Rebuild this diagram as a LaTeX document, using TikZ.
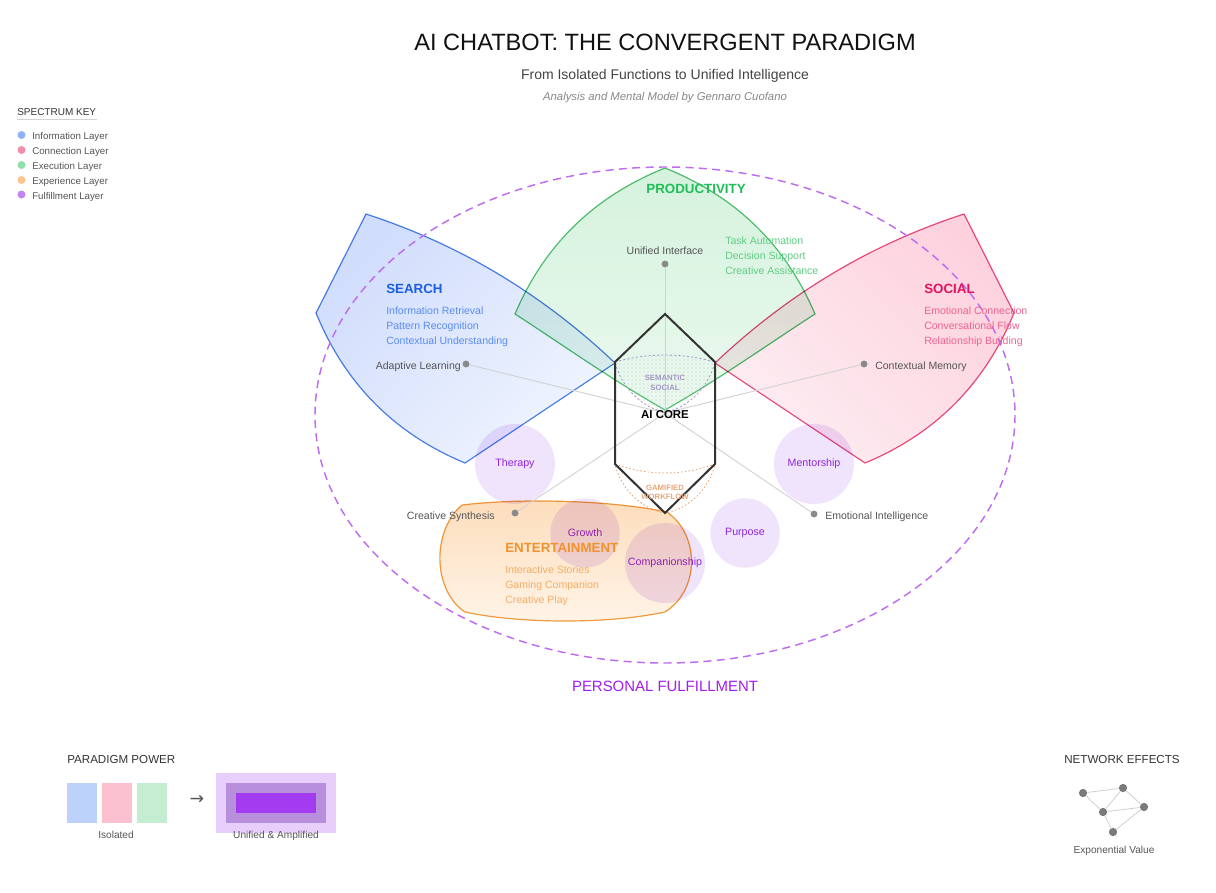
\documentclass[tikz,border=0pt]{standalone}
\usepackage{fontspec}
\setmainfont{Liberation Sans}
\newfontfamily\djv{DejaVu Sans}
\usetikzlibrary{patterns}
\newcommand\setfs[1]{\fontsize{#1}{#1}\selectfont}
\definecolor{blueE}{HTML}{5084E6}
\definecolor{blueA}{HTML}{D0DDFC}
\definecolor{blueB}{HTML}{F0F4FE}
\definecolor{blueT}{HTML}{1B5FE0}
\definecolor{blueI}{HTML}{5B8DEF}
\definecolor{pinkE}{HTML}{E8507F}
\definecolor{pinkA}{HTML}{FDD2DE}
\definecolor{pinkB}{HTML}{FDEDF2}
\definecolor{pinkT}{HTML}{E2125E}
\definecolor{pinkI}{HTML}{EE6390}
\definecolor{greenE}{HTML}{55C274}
\definecolor{greenA}{HTML}{D5F2DD}
\definecolor{greenB}{HTML}{EAF9EF}
\definecolor{greenT}{HTML}{1FBE58}
\definecolor{greenI}{HTML}{5FCD83}
\definecolor{orangeE}{HTML}{F0A042}
\definecolor{orangeA}{HTML}{FDDDBB}
\definecolor{orangeB}{HTML}{FEF4E8}
\definecolor{orangeT}{HTML}{F0922E}
\definecolor{orangeI}{HTML}{F4AD66}
\definecolor{purD}{HTML}{C06CF2}
\definecolor{purT}{HTML}{A21CF0}
\definecolor{purC}{HTML}{9A2BE0}
\definecolor{purF}{HTML}{EFE0FC}
\definecolor{grayL}{HTML}{555555}
\definecolor{lineC}{HTML}{D2D2D2}
\definecolor{dotC}{HTML}{8A8A8A}
\definecolor{semC}{HTML}{A598C8}
\definecolor{gamC}{HTML}{E9A77A}
\definecolor{hexC}{HTML}{333333}
\definecolor{titleC}{HTML}{111111}
\definecolor{subC}{HTML}{444444}
\definecolor{bylC}{HTML}{888888}
\definecolor{keyB}{HTML}{8FB1F5}
\definecolor{keyP}{HTML}{F28CA8}
\definecolor{keyG}{HTML}{8FE0A8}
\definecolor{keyO}{HTML}{FBC58F}
\definecolor{keyU}{HTML}{C584F5}
\definecolor{sqB}{HTML}{BCD2FB}
\definecolor{sqP}{HTML}{FCC1D1}
\definecolor{sqG}{HTML}{C5EDD1}
\definecolor{ampO}{HTML}{E7CEFB}
\definecolor{ampM}{HTML}{B78FDD}
\definecolor{ampI}{HTML}{A33CF0}
\definecolor{netN}{HTML}{7A7A7A}
\definecolor{netE}{HTML}{D0D0D0}
\definecolor{headC}{HTML}{333333}
\begin{document}
\begin{tikzpicture}[x=0.75pt,y=-0.75pt,
  txt/.style={inner sep=0pt, text height=0.7em, text depth=0.05em},
  ttl/.style={txt, font=\setfs{17.7}, text=titleC},
  subt/.style={txt, font=\setfs{10.5}, text=subC},
  byl/.style={txt, font=\setfs{8.5}\itshape, text=bylC},
  ptitle/.style={txt, font=\setfs{10}\bfseries, anchor=west},
  pitem/.style={txt, font=\setfs{7.9}, anchor=west},
  glab/.style={txt, font=\setfs{7.9}, text=grayL},
  keyt/.style={txt, font=\setfs{7.3}, text=grayL, anchor=west},
  head/.style={txt, font=\setfs{8.7}, text=headC},
  keyd/.style={circle, inner sep=0pt, minimum size=6},
  cdot/.style={circle, inner sep=0pt, minimum size=5.2, fill=dotC},
  conn/.style={draw=lineC, line width=0.7pt},
  bubble/.style={circle, inner sep=0pt, fill=purF, fill opacity=0.9, text opacity=1, text=purC, font=\setfs{8}},
  petal/.style={line width=0.9pt},
  netnode/.style={circle, inner sep=0pt, minimum size=6.2, fill=netN},
  netedge/.style={draw=netE, line width=0.6pt},
  coretxt/.style={txt, font=\setfs{5.8}\bfseries}
]
\useasboundingbox (0,0) rectangle (1216,892);
\fill[white] (0,0) rectangle (1216,892);

% ---------- petals ----------
\begin{scope}[blend mode=multiply]
\path[petal, draw=greenE, top color=greenA, bottom color=greenB]
  (515,314) .. controls (544.7,244.2) and (594.7,196.2) .. (665,168)
  .. controls (735.3,196.2) and (785.3,244.2) .. (815,314)
  .. controls (767,345) and (718,380) .. (665,410)
  .. controls (612,380) and (563,345) .. (515,314) -- cycle;
\path[petal, draw=blueE, top color=blueA, bottom color=blueB, shading angle=45]
  (366,214) .. controls (459.6,244.4) and (542,293.8) .. (615,363)
  -- (465,463)
  .. controls (394.5,433.7) and (344.9,383.7) .. (316,313) -- cycle;
\path[petal, draw=pinkE, top color=pinkA, bottom color=pinkB, shading angle=-45]
  (964,214) .. controls (870.4,244.4) and (788,293.8) .. (715,363)
  -- (865,463)
  .. controls (935.5,433.7) and (985.1,383.7) .. (1014,313) -- cycle;
\path[petal, draw=orangeE, top color=orangeA, bottom color=orangeB]
  (462,505) .. controls (520,498) and (610,500) .. (667,512)
  .. controls (700,535) and (700,590) .. (665,612)
  .. controls (610,624) and (520,624) .. (465,612)
  .. controls (432,590) and (432,530) .. (462,505) -- cycle;
% fulfillment bubbles
\node[bubble, minimum size=60] (therapy) at (515,464) {Therapy};
\node[bubble, minimum size=60] (mentor) at (814,464) {Mentorship};
\node[bubble, minimum size=52] (growth) at (585,533) {Growth};
\node[bubble, minimum size=52] (purpose) at (745,533) {Purpose};
\node[bubble, minimum size=60] (compan) at (665,563) {Companionship};
\end{scope}

% ---------- connectors from the core ----------
\coordinate (core) at (665,413);
\node[cdot] (dUI) at (665,264) {};
\node[cdot] (dAL) at (466,364) {};
\node[cdot] (dCM) at (864,364) {};
\node[cdot] (dCS) at (515,513) {};
\node[cdot] (dEI) at (814,514) {};
\draw[conn] (core) -- (dUI);
\draw[conn] (core) -- (dAL);
\draw[conn] (core) -- (dCM);
\draw[conn] (core) -- (dCS);
\draw[conn] (core) -- (dEI);

% ---------- semantic / gamified zones ----------
\path[pattern=dots, pattern color=gray!45]
  (615,362) .. controls (648,352.7) and (682,352.7) .. (715,362)
  .. controls (710,384) and (690,408) .. (665,412)
  .. controls (640,408) and (620,384) .. (615,362) -- cycle;
\draw[semC, line width=0.6pt, dash pattern=on 1.6pt off 1.6pt]
  (615,362) .. controls (648,352.7) and (682,352.7) .. (715,362)
  .. controls (710,384) and (690,408) .. (665,412)
  .. controls (640,408) and (620,384) .. (615,362) -- cycle;
\draw[gamC, line width=0.6pt, dash pattern=on 1.2pt off 1.6pt]
  (615,464) .. controls (648,476) and (682,476) .. (715,464)
  .. controls (710,487) and (690,509) .. (665,513)
  .. controls (640,509) and (620,487) .. (615,464) -- cycle;

% ---------- hexagon core ----------
\draw[hexC, line width=1.5pt, line join=miter]
  (665,314) -- (715,362) -- (715,464) -- (665,513) -- (615,464) -- (615,362) -- cycle;
\node[coretxt, text=semC] (sem1) at (665,376) {SEMANTIC};
\node[coretxt, text=semC] (sem2) at (665,386) {SOCIAL};
\node[coretxt, text=gamC] (gam1) at (665,486) {GAMIFIED};
\node[coretxt, text=gamC] (gam2) at (665,495) {WORKFLOW};
\node[txt, font=\setfs{8.6}\bfseries, text=black] (corelabel) at (665,414) {AI CORE};

% ---------- fulfillment ellipse ----------
\draw[purD, line width=1.1pt, dash pattern=on 6pt off 4pt] (665,415) ellipse [x radius=350, y radius=248];

% ---------- connector end labels ----------
\node[glab, anchor=center] (tUI) at (665,250) {Unified Interface};
\node[glab, anchor=east] (tAL) at (461,365) {Adaptive Learning};
\node[glab, anchor=west] (tCM) at (875,365) {Contextual Memory};
\node[glab, anchor=east] (tCS) at (495,515) {Creative Synthesis};
\node[glab, anchor=west] (tEI) at (825,515) {Emotional Intelligence};

% ---------- petal texts ----------
\node[ptitle, text=blueT] (search) at (386,289) {SEARCH};
\node[pitem, text=blueI] (s1) at (386,310.5) {Information Retrieval};
\node[pitem, text=blueI] (s2) at (386,325.5) {Pattern Recognition};
\node[pitem, text=blueI] (s3) at (386,340.5) {Contextual Understanding};

\node[ptitle, text=greenT, anchor=center] (prod) at (696,189) {PRODUCTIVITY};
\node[pitem, text=greenI] (p1) at (725,240.5) {Task Automation};
\node[pitem, text=greenI] (p2) at (725,255.5) {Decision Support};
\node[pitem, text=greenI] (p3) at (725,270.5) {Creative Assistance};

\node[ptitle, text=pinkT] (social) at (924,289) {SOCIAL};
\node[pitem, text=pinkI] (c1) at (924,310.5) {Emotional Connection};
\node[pitem, text=pinkI] (c2) at (924,325.5) {Conversational Flow};
\node[pitem, text=pinkI] (c3) at (924,340.5) {Relationship Building};

\node[ptitle, text=orangeT] (ent) at (505,548) {ENTERTAINMENT};
\node[pitem, text=orangeI] (e1) at (505,569) {Interactive Stories};
\node[pitem, text=orangeI] (e2) at (505,584) {Gaming Companion};
\node[pitem, text=orangeI] (e3) at (505,599) {Creative Play};

\node[txt, font=\setfs{11.2}, text=purT] (pf) at (665,687) {PERSONAL FULFILLMENT};

% ---------- title ----------
\node[ttl] (title) at (665,46) {AI CHATBOT: THE CONVERGENT PARADIGM};
\node[subt] (subtitle) at (665,75) {From Isolated Functions to Unified Intelligence};
\node[byl] (byline) at (665,96) {Analysis and Mental Model by Gennaro Cuofano};

% ---------- spectrum key ----------
\node[head, font=\setfs{7.5}, anchor=west] (keyhead) at (17,111.5) {SPECTRUM KEY};
\draw[lineC, line width=0.5pt] (17,119.5) -- (97,119.5);
\node[keyd, fill=keyB] (k1) at (21.5,135) {};
\node[keyd, fill=keyP] (k2) at (21.5,150) {};
\node[keyd, fill=keyG] (k3) at (21.5,165) {};
\node[keyd, fill=keyO] (k4) at (21.5,180) {};
\node[keyd, fill=keyU] (k5) at (21.5,194.5) {};
\node[keyt] (kt1) at (32,135.5) {Information Layer};
\node[keyt] (kt2) at (32,150.5) {Connection Layer};
\node[keyt] (kt3) at (32,165.5) {Execution Layer};
\node[keyt] (kt4) at (32,180.5) {Experience Layer};
\node[keyt] (kt5) at (32,195) {Fulfillment Layer};

% ---------- paradigm power ----------
\node[head, anchor=west] (pphead) at (67,759) {PARADIGM POWER};
\fill[sqB] (67,783) rectangle (97,823);
\fill[sqP] (102,783) rectangle (132,823);
\fill[sqG] (137,783) rectangle (167,823);
\node[txt, font=\setfs{7.6}, text=grayL] (iso) at (116,834.5) {Isolated};
\node[txt, font=\djv\setfs{13}, text=grayL] (arrow) at (197,800) {→};
\fill[ampO] (216,773) rectangle (336,833);
\fill[ampM] (226,783) rectangle (326,823);
\fill[ampI] (236,793) rectangle (316,813);
\node[txt, font=\setfs{7.6}, text=grayL] (uni) at (276,834.5) {Unified \& Amplified};

% ---------- network effects ----------
\node[head] (nehead) at (1122,759) {NETWORK EFFECTS};
\node[netnode] (n1) at (1083,793) {};
\node[netnode] (n2) at (1123,788) {};
\node[netnode] (n3) at (1103,812) {};
\node[netnode] (n4) at (1144,807) {};
\node[netnode] (n5) at (1113,832) {};
\draw[netedge] (n1) -- (n2);
\draw[netedge] (n1) -- (n3);
\draw[netedge] (n2) -- (n3);
\draw[netedge] (n2) -- (n4);
\draw[netedge] (n3) -- (n4);
\draw[netedge] (n3) -- (n5);
\draw[netedge] (n4) -- (n5);
\node[txt, font=\setfs{7.6}, text=grayL] (expv) at (1114,849.5) {Exponential Value};
\end{tikzpicture}
\end{document}
